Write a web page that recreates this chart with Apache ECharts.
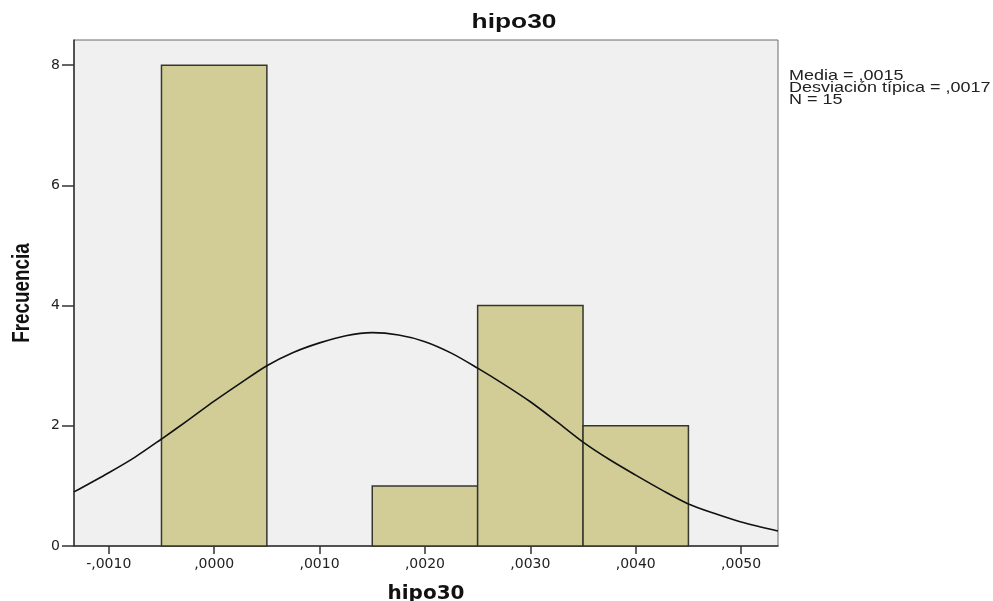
<!DOCTYPE html>
<html>
<head>
<meta charset="utf-8">
<style>
  html, body { margin: 0; padding: 0; background: #ffffff; }
  #chart { width: 993px; height: 601px; }
</style>
<script src="https://cdn.jsdelivr.net/npm/echarts@6/dist/echarts.min.js"></script>
</head>
<body>
<div id="chart"></div>
<script>
// Histogram bins of hipo30: lower edge, upper edge, frequency
const binStart = [-0.0005, 0.0015, 0.0025, 0.0035];
const binEnd   = [ 0.0005, 0.0025, 0.0035, 0.0045];
const binCount = [8, 1, 4, 2];

// Fitted normal curve, sampled along the axis
const curveX = [-0.00133, -0.00100, -0.00075, -0.00050, -0.00025, 0.00000, 0.00025, 0.00050, 0.00075,
                0.00100, 0.00125, 0.00150, 0.00175, 0.00200, 0.00225, 0.00250, 0.00275, 0.00300,
                0.00325, 0.00350, 0.00375, 0.00400, 0.00425, 0.00450, 0.00475, 0.00500, 0.00535];
const curveY = [0.90, 1.22, 1.48, 1.78, 2.09, 2.41, 2.71, 3.00, 3.22,
                3.38, 3.50, 3.55, 3.51, 3.40, 3.21, 2.96, 2.69, 2.40,
                2.07, 1.73, 1.44, 1.18, 0.93, 0.70, 0.54, 0.40, 0.25];

// Axis ticks
const xTicks = [-0.0010, 0.0000, 0.0010, 0.0020, 0.0030, 0.0040, 0.0050];
const yTicks = [0, 2, 4, 6, 8];

// Summary statistics
const statMean = ',0015';
const statSd = ',0017';
const statN = 15;

const fmtX = v => v.toFixed(4).replace('0.', ',');

const chart = echarts.init(document.getElementById('chart'));

chart.setOption({
  backgroundColor: '#ffffff',
  animation: false,
  grid: {
    left: 74, right: 215, top: 40, bottom: 55,
    outerBoundsMode: 'none',
    containLabel: false,
    show: true,
    backgroundColor: '#f0f0f0',
    borderColor: '#6a6a6a',
    borderWidth: 1
  },
  xAxis: {
    type: 'value',
    min: -0.00133,
    max: 0.00535,
    name: 'hipo30',
    nameLocation: 'middle',
    nameGap: 38,
    nameTextStyle: { fontFamily: 'DejaVu Sans', fontWeight: 'bold', fontSize: 20, color: '#111' },
    axisLine: { show: true, onZero: false, lineStyle: { color: '#333', width: 1.5 } },
    axisTick: { show: true, length: 8, customValues: xTicks, lineStyle: { color: '#333', width: 1.5 } },
    axisLabel: {
      customValues: xTicks,
      formatter: fmtX,
      margin: 11,
      fontFamily: 'DejaVu Sans', fontSize: 14, color: '#222'
    },
    splitLine: { show: false }
  },
  yAxis: {
    type: 'value',
    min: 0,
    max: 8.42,
    axisLine: { show: true, onZero: false, lineStyle: { color: '#333', width: 1.5 } },
    axisTick: { show: true, length: 12, customValues: yTicks, lineStyle: { color: '#333', width: 1.5 } },
    axisLabel: {
      customValues: yTicks,
      margin: 14,
      fontFamily: 'DejaVu Sans', fontSize: 14, color: '#222'
    },
    splitLine: { show: false }
  },
  graphic: [
    {
      // chart title
      type: 'text', x: 514, y: 23, scaleX: 1.35, silent: true,
      style: {
        text: 'hipo30', align: 'center', verticalAlign: 'middle',
        font: 'bold 19.5px "Liberation Sans", Arial, sans-serif', fill: '#111'
      }
    },
    {
      // y axis title, read bottom to top
      type: 'text', x: 22.5, y: 293, rotation: Math.PI / 2, scaleX: 0.82, silent: true,
      style: {
        text: 'Frecuencia', align: 'center', verticalAlign: 'middle',
        font: 'bold 23px "Liberation Sans", Arial, sans-serif', fill: '#111'
      }
    },
    {
      // summary statistics block
      type: 'text', x: 789, y: 70, scaleX: 1.24, silent: true,
      style: {
        text: 'Media = ' + statMean + '\nDesviación típica = ' + statSd + '\nN = ' + statN,
        align: 'left', verticalAlign: 'top', lineHeight: 12,
        font: '14.5px "Liberation Sans", Arial, sans-serif', fill: '#222'
      }
    }
  ],
  series: [
    {
      type: 'custom',
      data: binCount.map((c, i) => [binStart[i], binEnd[i], c]),
      encode: { x: [0, 1], y: 2 },
      renderItem: (params, api) => {
        const p0 = api.coord([api.value(0), api.value(2)]);
        const p1 = api.coord([api.value(1), 0]);
        return {
          type: 'rect',
          shape: { x: p0[0], y: p0[1], width: p1[0] - p0[0], height: p1[1] - p0[1] },
          style: { fill: '#d2cd97', stroke: '#36362e', lineWidth: 1.5 }
        };
      },
      z: 2
    },
    {
      type: 'line',
      data: curveX.map((x, i) => [x, curveY[i]]),
      smooth: 0.3,
      symbol: 'none',
      lineStyle: { color: '#111', width: 1.6 },
      z: 3
    }
  ]
});
</script>
</body>
</html>
